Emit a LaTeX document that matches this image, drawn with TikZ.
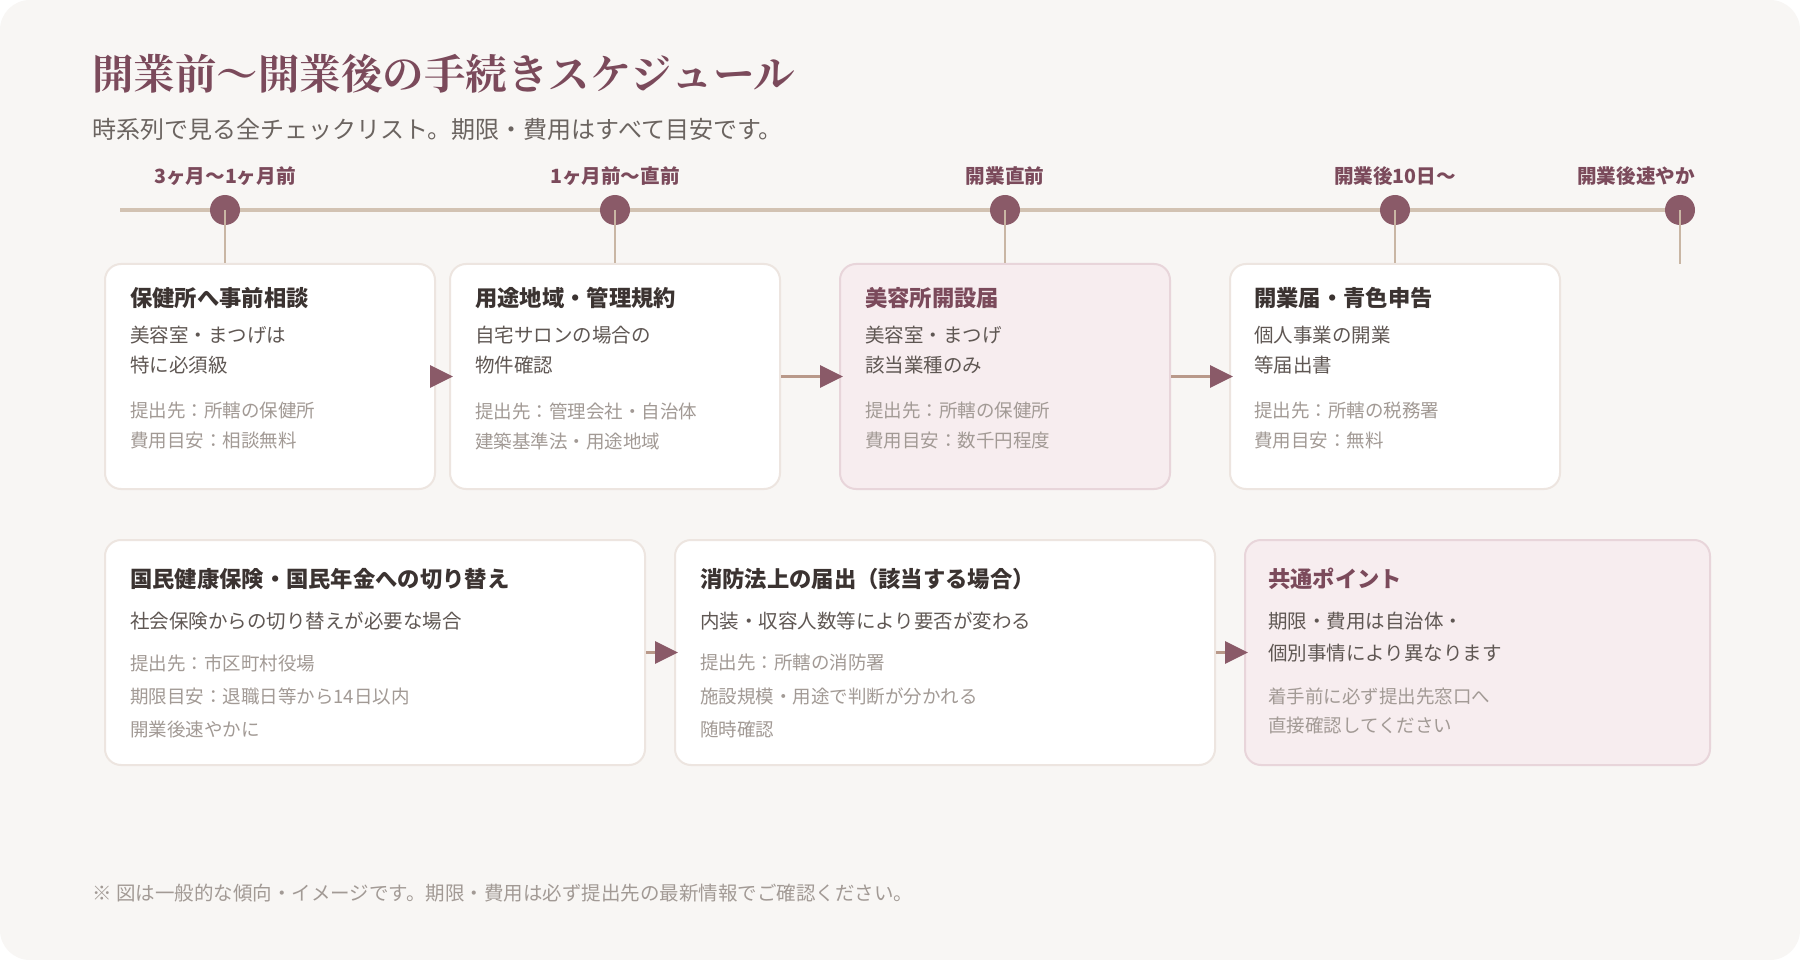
\documentclass[tikz,border=0pt]{standalone}
\usepackage{fontspec}
\setmainfont{Noto Sans CJK JP}
\newfontfamily\serifjp{Noto Serif CJK JP}
\usetikzlibrary{arrows.meta}
\definecolor{bgc}{HTML}{F8F6F4}
\definecolor{mauve}{HTML}{7B4A5B}
\definecolor{dotc}{HTML}{8A5A68}
\definecolor{tan}{HTML}{D2C2B2}
\definecolor{stemc}{HTML}{C9B6A4}
\definecolor{arrline}{HTML}{B9998A}
\definecolor{boxborder}{HTML}{EDE5E0}
\definecolor{pinkfill}{HTML}{F7EDEF}
\definecolor{pinkborder}{HTML}{E8D5DA}
\definecolor{darktext}{HTML}{3B3331}
\definecolor{bodytext}{HTML}{5F5753}
\definecolor{metatext}{HTML}{A29A95}
\definecolor{subtext}{HTML}{6B6460}
\tikzset{
  card/.style={draw=boxborder, line width=2pt, fill=white, rounded corners=16pt, minimum height=225pt, inner sep=0pt},
  pinkcard/.style={card, draw=pinkborder, fill=pinkfill},
  tdot/.style={circle, fill=dotc, minimum size=30pt, inner sep=0pt},
  stem/.style={draw=stemc, line width=2pt},
  tlabel/.style={font=\bfseries\fontsize{19.6}{22}\selectfont, text=mauve, inner sep=0pt},
  ctitle/.style={anchor=west, inner sep=0pt, font=\bfseries\fontsize{22.3}{26}\selectfont, text=darktext},
  ptitle/.style={ctitle, text=mauve},
  cbody/.style={anchor=west, inner sep=0pt, font=\fontsize{19.5}{23}\selectfont, text=bodytext},
  cmeta/.style={anchor=west, inner sep=0pt, font=\fontsize{18.5}{22}\selectfont, text=metatext},
  flow/.style={draw=arrline, line width=3pt, shorten >=-4pt, -{Triangle[length=23pt,width=22pt,color=dotc]}}
}
\begin{document}
\begin{tikzpicture}[x=1pt,y=-1pt]
\useasboundingbox (0,0) rectangle (1800,960);
\fill[white] (0,0) rectangle (1800,960);
\fill[bgc, rounded corners=30pt] (0,0) rectangle (1800,960);

% header
\node[anchor=west, inner sep=0pt, font=\serifjp\bfseries\fontsize{41.5}{46}\selectfont, text=mauve] (title) at (92,74) {開業前〜開業後の手続きスケジュール};
\node[anchor=west, inner sep=0pt, font=\fontsize{24}{28}\selectfont, text=subtext] (sub) at (92,129) {時系列で見る全チェックリスト。期限・費用はすべて目安です。};

% timeline
\coordinate (tlA) at (120,210);
\coordinate (tlB) at (1681,210);
\draw[draw=tan, line width=4pt] (tlA) -- (tlB);

% cards top row
\node[card, minimum width=330pt] (b1) at (270,376.5) {};
\node[card, minimum width=330pt] (b2) at (615,376.5) {};
\node[pinkcard, minimum width=330pt] (b3) at (1005,376.5) {};
\node[card, minimum width=330pt] (b4) at (1395,376.5) {};
% cards bottom row
\node[card, minimum width=540pt] (b5) at (375,652.5) {};
\node[card, minimum width=540pt] (b6) at (945,652.5) {};
\node[pinkcard, minimum width=465pt] (b7) at (1477.5,652.5) {};

% dots
\node[tdot] (d1) at (225,210) {};
\node[tdot] (d2) at (615,210) {};
\node[tdot] (d3) at (1005,210) {};
\node[tdot] (d4) at (1395,210) {};
\node[tdot] (d5) at (1680,210) {};
\coordinate (d5end) at (1680,264);
\draw[stem] (d1.center) -- (d1 |- b1.north);
\draw[stem] (d2.center) -- (d2 |- b2.north);
\draw[stem] (d3.center) -- (d3 |- b3.north);
\draw[stem] (d4.center) -- (d4 |- b4.north);
\draw[stem] (d5.center) -- (d5end);

% labels
\node[tlabel] (l1) at (225,176) {3ヶ月〜1ヶ月前};
\node[tlabel] (l2) at (615,176) {1ヶ月前〜直前};
\node[tlabel] (l3) at (1005,176) {開業直前};
\node[tlabel] (l4) at (1395,176) {開業後10日〜};
\node[tlabel, anchor=east] (l5) at (1695,176) {開業後速やか};

% arrows
\draw[flow] (b1.east) -- (b2.west);
\draw[flow] (b2.east) -- (b3.west);
\draw[flow] (b3.east) -- (b4.west);
\draw[flow] (b5.east) -- (b6.west);
\draw[flow] (b6.east) -- (b7.west);

% card 1
\node[ctitle] (t1) at (130,298) {保健所へ事前相談};
\node[cbody] (t1a) at (130,335) {美容室・まつげは};
\node[cbody] (t1b) at (130,365) {特に必須級};
\node[cmeta] (t1c) at (130,411) {提出先：所轄の保健所};
\node[cmeta] (t1d) at (130,441) {費用目安：相談無料};
% card 2
\node[ctitle] (t2) at (475,298) {用途地域・管理規約};
\node[cbody] (t2a) at (475,335) {自宅サロンの場合の};
\node[cbody] (t2b) at (475,365) {物件確認};
\node[cmeta] (t2c) at (475,411) {提出先：管理会社・自治体};
\node[cmeta] (t2d) at (475,441) {建築基準法・用途地域};
% card 3
\node[ptitle] (t3) at (865,298) {美容所開設届};
\node[cbody] (t3a) at (865,335) {美容室・まつげ};
\node[cbody] (t3b) at (865,365) {該当業種のみ};
\node[cmeta] (t3c) at (865,411) {提出先：所轄の保健所};
\node[cmeta] (t3d) at (865,441) {費用目安：数千円程度};
% card 4
\node[ctitle] (t4) at (1254,298) {開業届・青色申告};
\node[cbody] (t4a) at (1254,335) {個人事業の開業};
\node[cbody] (t4b) at (1254,365) {等届出書};
\node[cmeta] (t4c) at (1254,411) {提出先：所轄の税務署};
\node[cmeta] (t4d) at (1254,441) {費用目安：無料};
% card 5
\node[ctitle] (t5) at (130,579) {国民健康保険・国民年金への切り替え};
\node[cbody] (t5a) at (130,621) {社会保険からの切り替えが必要な場合};
\node[cmeta] (t5b) at (130,663) {提出先：市区町村役場};
\node[cmeta] (t5c) at (130,696) {期限目安：退職日等から14日以内};
\node[cmeta] (t5d) at (130,729) {開業後速やかに};
% card 6
\node[ctitle] (t6) at (700,579) {消防法上の届出（該当する場合）};
\node[cbody] (t6a) at (700,621) {内装・収容人数等により要否が変わる};
\node[cmeta] (t6b) at (700,663) {提出先：所轄の消防署};
\node[cmeta] (t6c) at (700,696) {施設規模・用途で判断が分かれる};
\node[cmeta] (t6d) at (700,729) {随時確認};
% card 7
\node[ptitle] (t7) at (1268,579) {共通ポイント};
\node[cbody] (t7a) at (1268,621) {期限・費用は自治体・};
\node[cbody] (t7b) at (1268,653) {個別事情により異なります};
\node[cmeta] (t7c) at (1268,696) {着手前に必ず提出先窓口へ};
\node[cmeta] (t7d) at (1268,725) {直接確認してください};

% footnote
\node[anchor=west, inner sep=0pt, font=\fontsize{19.5}{22}\selectfont, text=metatext] (foot) at (92,893) {※ 図は一般的な傾向・イメージです。期限・費用は必ず提出先の最新情報でご確認ください。};
\end{tikzpicture}
\end{document}
